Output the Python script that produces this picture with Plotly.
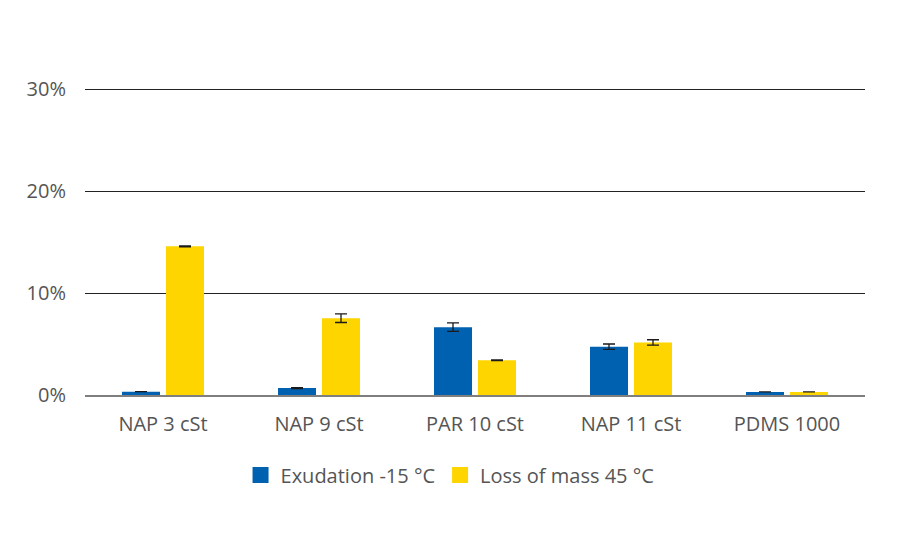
import plotly.graph_objects as go

categories = ["NAP 3 cSt", "NAP 9 cSt", "PAR 10 cSt", "NAP 11 cSt", "PDMS 1000"]
exudation = [0.33, 0.68, 6.65, 4.74, 0.30]
exudation_err = [0.0, 0.05, 0.42, 0.26, 0.0]
loss_mass = [14.58, 7.53, 3.40, 5.16, 0.30]
loss_mass_err = [0.05, 0.42, 0.03, 0.26, 0.0]
tick_vals = [0, 10, 20, 30]
tick_text = ["0%", "10%", "20%", "30%"]
series_names = ["Exudation -15 °C", "Loss of mass 45 °C"]
series_colors = ["#0061B0", "#FFD500"]

text_color = "#555555"
font_family = "Open Sans, Noto Sans, sans-serif"
fsize = 20

fig = go.Figure()
for name, vals, errs, col in zip(series_names, [exudation, loss_mass],
                                 [exudation_err, loss_mass_err], series_colors):
    fig.add_trace(go.Bar(
        name=name, x=categories, y=vals, showlegend=False,
        marker=dict(color=col, line=dict(width=0)),
        error_y=dict(type="data", array=errs, visible=True,
                     color="#1a1a1a", thickness=1.3, width=6),
    ))
# legend-only entries with larger square swatches
for name, col in zip(series_names, series_colors):
    fig.add_trace(go.Scatter(
        name=name, x=[None], y=[None], mode="markers",
        marker=dict(symbol="square", size=16, color=col),
        showlegend=True,
    ))

fig.update_layout(
    width=900, height=550,
    margin=dict(l=85, r=35, t=86, b=155, autoexpand=False),
    paper_bgcolor="white", plot_bgcolor="white",
    barmode="group", bargap=0.436, bargroupgap=0.136,
    font=dict(family=font_family, color=text_color, size=fsize),
    showlegend=True,
    legend=dict(orientation="h", x=0.468, xanchor="center",
                y=-0.259, yanchor="middle",
                font=dict(size=fsize, color=text_color), traceorder="normal",
                itemwidth=30, itemsizing="trace"),
    yaxis=dict(range=[0, 30.3], tickvals=tick_vals, ticktext=tick_text,
               showgrid=True, gridcolor="#222222", gridwidth=1,
               zeroline=False, showline=False, ticks="",
               ticklabelstandoff=18, tickfont=dict(size=fsize, color=text_color)),
    xaxis=dict(showline=True, linecolor="#7f7f7f", linewidth=1.5,
               ticks="", ticklabelstandoff=10, tickangle=0,
               tickfont=dict(size=fsize, color=text_color)),
)

fig.write_html("out.html", config={"displayModeBar": False},
               post_script="document.body.style.margin='0';")
